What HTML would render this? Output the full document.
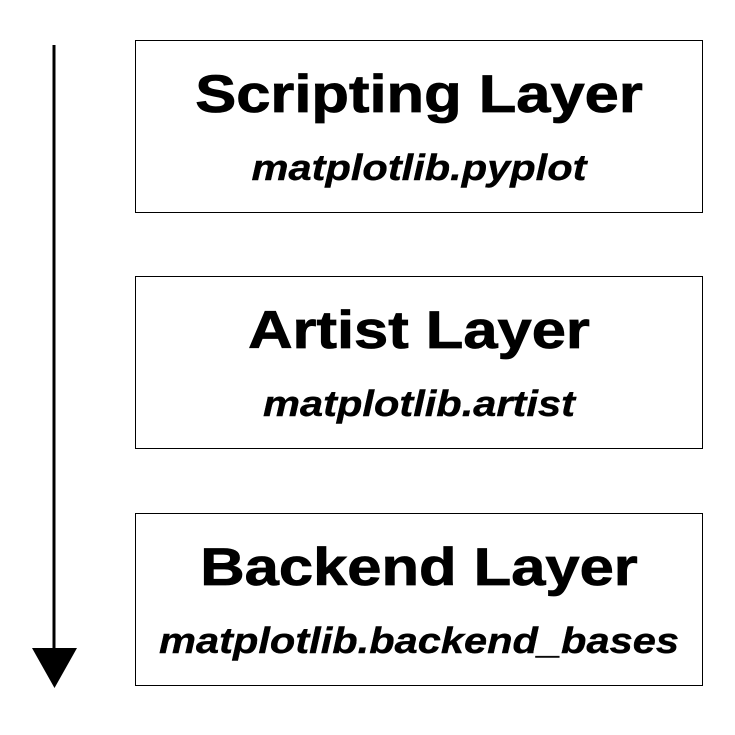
<!DOCTYPE html>
<html><head><style>
body{margin:0;width:735px;height:735px;background:#fff;position:relative;overflow:hidden;font-family:"Liberation Sans",Arial,sans-serif}
.box{position:absolute;left:135px;width:566px;height:171px;border:1.5px solid #000;box-sizing:content-box}
.t{position:absolute;left:0;right:0;text-align:center;font-weight:bold;font-size:53px;line-height:60px;top:24px;transform:scaleX(1.16);transform-origin:center;-webkit-text-stroke:0.8px #000}
.s{position:absolute;left:0;right:0;text-align:center;font-weight:bold;font-style:italic;font-size:36px;line-height:40px;top:107px;transform:scaleX(1.155);transform-origin:center;-webkit-text-stroke:0.4px #000}
</style></head><body>
<svg width="735" height="735" style="position:absolute;left:0;top:0">
<line x1="54" y1="45" x2="54" y2="652" stroke="#000" stroke-width="3"/>
<polygon points="32,648 77,648 54.5,688" fill="#000"/>
</svg>
<div class="box" style="top:40px"><div class="t">Scripting Layer</div><div class="s">matplotlib.pyplot</div></div>
<div class="box" style="top:276px"><div class="t">Artist Layer</div><div class="s">matplotlib.artist</div></div>
<div class="box" style="top:513px"><div class="t">Backend Layer</div><div class="s">matplotlib.backend_bases</div></div>
</body></html>
